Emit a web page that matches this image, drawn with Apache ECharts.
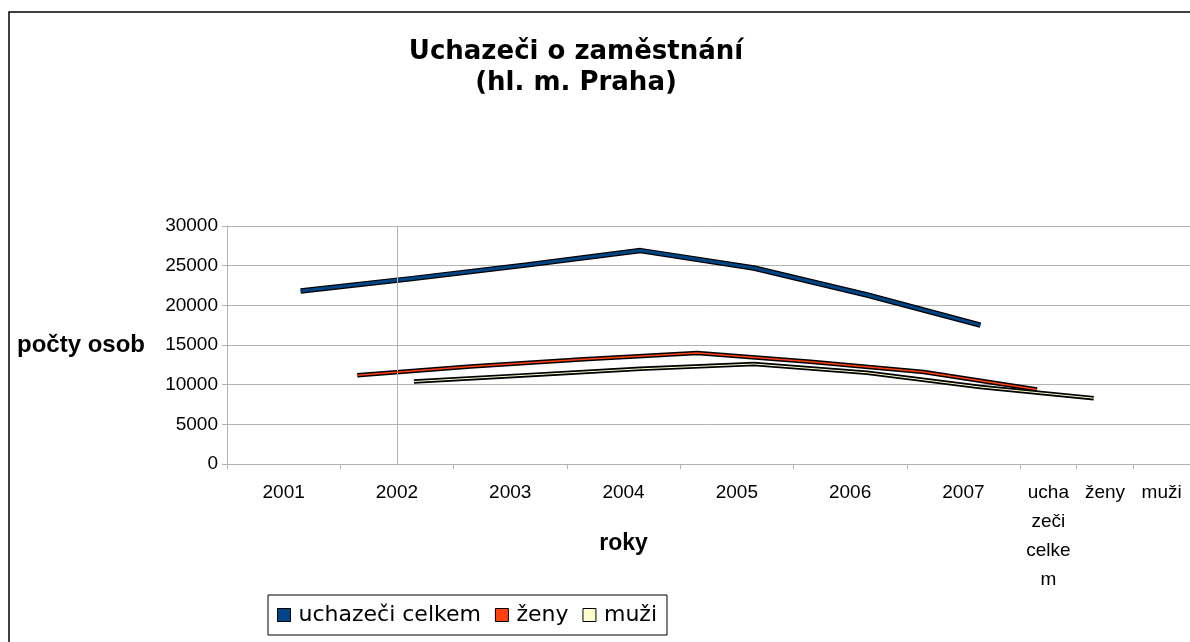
<!DOCTYPE html>
<html>
<head>
<meta charset="utf-8">
<title>Uchazeči o zaměstnání</title>
<script src="https://cdn.jsdelivr.net/npm/echarts@6.0.0/dist/echarts.min.js"></script>
<style>
  html, body { margin: 0; padding: 0; background: #fff; }
  #chart { width: 1190px; height: 642px; }
</style>
</head>
<body>
<div id="chart"></div>
<script>
// data
const years = ['2001', '2002', '2003', '2004', '2005', '2006', '2007'];
const xLabels = ['2001', '2002', '2003', '2004', '2005', '2006', '2007', 'ucha\nzeči\ncelke\nm', 'ženy', 'muži'];
const seriesNames = ['uchazeči celkem', 'ženy', 'muži'];
const celkem = [21800, 23400, 25100, 26900, 24700, 21300, 17500];
const zeny = [11200, 12300, 13200, 14000, 12900, 11600, 9400];
const muzi = [10400, 11200, 12000, 12600, 11500, 9700, 8300];

// layout of the skewed (3D look) category floor, in half-slot units
const SLOTS = 17;
const tickPos = [0, 2, 4, 6, 8, 10, 12, 14, 15, 16, 17];
const labelPos = [1, 3, 5, 7, 9, 11, 13, 14.5, 15.5, 16.5];
const depthShift = [1.3, 2.3, 3.3];   // each series sits deeper on the floor
const colors = ['#004586', '#ff420e', '#ffffcc'];
const widths = [3, 1.5, 1];
const outline = [5.5, 4.5, 4.5];

const chart = echarts.init(document.getElementById('chart'));
const GRAY = '#b3b3b3';
const FONT = 'Liberation Sans, Arial, sans-serif';

let allData = [celkem, zeny, muzi];
let xAxes = [{
  type: 'value',
  min: 0,
  max: SLOTS,
  position: 'bottom',
  axisLine: { show: true, lineStyle: { color: GRAY, width: 1 } },
  axisTick: { show: true, customValues: tickPos, length: 5, lineStyle: { color: GRAY } },
  axisLabel: {
    customValues: labelPos,
    margin: 14,
    color: '#000',
    fontFamily: FONT,
    fontSize: 19,
    lineHeight: 29,
    align: 'center',
    formatter: function (v) {
      let i = labelPos.indexOf(v);
      return i >= 0 ? xLabels[i] : '';
    }
  },
  splitLine: { show: false },
  name: 'roky',
  nameLocation: 'middle',
  nameGap: 68,
  nameMoveOverlap: false,
  nameTextStyle: { fontFamily: FONT, fontWeight: 'bold', fontSize: 23, color: '#000', padding: [0, 170, 0, 0] }
}];

let series = [];
// vertical grid line at 2002
series.push({
  type: 'line', xAxisIndex: 0, data: [], silent: true,
  markLine: {
    silent: true, symbol: 'none', label: { show: false },
    lineStyle: { color: GRAY, width: 1, type: 'solid' },
    data: [{ xAxis: labelPos[1] }]
  }
});

for (let s = 0; s < 3; s++) {
  let first = Number(years[0]);
  xAxes.push({
    type: 'value', show: false,
    min: first - depthShift[s] / 2,
    max: first + (SLOTS - depthShift[s]) / 2
  });
  let pts = years.map((y, i) => [Number(y), allData[s][i]]);
  // black outline of the ribbon
  series.push({
    name: seriesNames[s] + '_outline',
    type: 'line', xAxisIndex: s + 1, data: pts,
    showSymbol: false, silent: true, z: 2 + s * 2,
    lineStyle: { color: '#000', width: outline[s] }
  });
  series.push({
    name: seriesNames[s],
    type: 'line', xAxisIndex: s + 1, data: pts,
    showSymbol: false, z: 3 + s * 2,
    itemStyle: { color: colors[s] },
    lineStyle: { color: colors[s], width: widths[s] }
  });
}

let option = {
  animation: false,
  backgroundColor: '#fff',
  title: {
    text: 'Uchazeči o zaměstnání\n(hl. m. Praha)',
    left: 571,
    top: 32,
    textAlign: 'center',
    textStyle: { fontFamily: 'DejaVu Sans', fontWeight: 'bold', fontSize: 26, lineHeight: 31, color: '#000' }
  },
  graphic: [{
    type: 'rect', z: -10, silent: true,
    shape: { x: 9, y: 12, width: 1200, height: 700 },
    style: { fill: 'none', stroke: '#000', lineWidth: 1.5 }
  }],
  legend: {
    data: seriesNames,
    left: 268,
    top: 595,
    icon: 'rect',
    itemWidth: 13,
    itemHeight: 13,
    itemGap: 14,
    padding: [9, 10, 9, 9],
    borderColor: '#000',
    borderWidth: 1,
    itemStyle: { borderColor: '#000', borderWidth: 1 },
    textStyle: { fontFamily: 'DejaVu Sans', fontSize: 22, color: '#000', padding: [0, 0, 0, 3] }
  },
  grid: { left: 227, top: 226, width: 969, height: 238, containLabel: false },
  xAxis: xAxes,
  yAxis: {
    type: 'value',
    min: 0,
    max: 30000,
    interval: 5000,
    axisLine: { show: true, lineStyle: { color: GRAY } },
    axisTick: { show: true, length: 5, lineStyle: { color: GRAY } },
    axisLabel: { color: '#000', fontFamily: FONT, fontSize: 19, margin: 9, formatter: v => String(v) },
    splitLine: { show: true, lineStyle: { color: GRAY, width: 1 } },
    name: 'počty osob',
    nameLocation: 'middle',
    nameGap: 82,
    nameRotate: 0,
    nameTextStyle: { fontFamily: FONT, fontWeight: 'bold', fontSize: 24, color: '#000', align: 'right', verticalAlign: 'middle' }
  },
  series: series
};

chart.setOption(option);
</script>
</body>
</html>
